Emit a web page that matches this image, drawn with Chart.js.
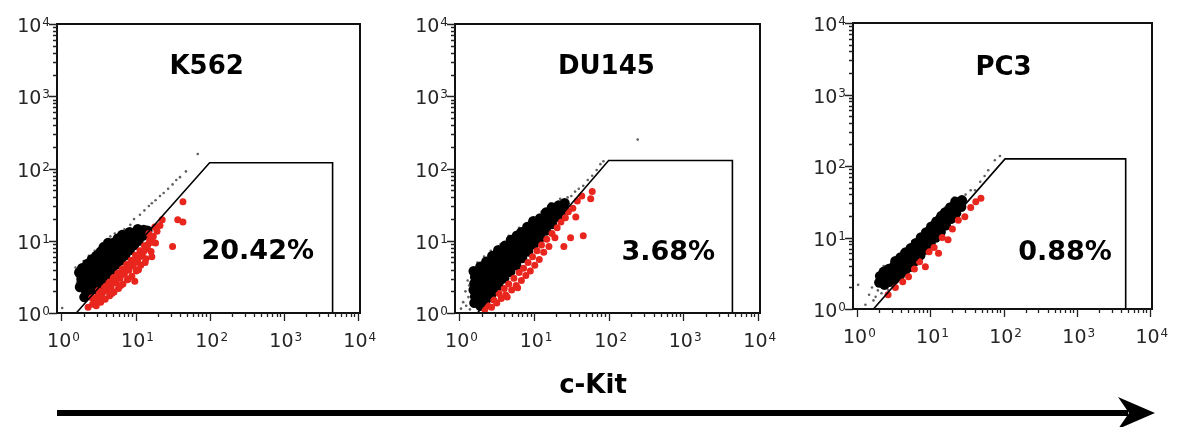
<!DOCTYPE html>
<html>
<head>
<meta charset="utf-8">
<script src="https://cdn.jsdelivr.net/npm/chart.js@4.4.1/dist/chart.umd.min.js"></script>
<style>
  html, body { margin: 0; padding: 0; background: #fff; }
  #wrap { position: relative; width: 1180px; height: 427px; overflow: hidden; }
  canvas { position: absolute; top: 0; }
  #xlabel { position: absolute; left: 493px; width: 200px; top: 369px; height: 34px; line-height: 34px;
            text-align: center; font: bold 26px "DejaVu Sans"; color: #000; }
  #arrow { position: absolute; left: 0; top: 0; }
</style>
</head>
<body>
<div id="wrap">
  <canvas id="c1" width="390" height="370" style="left:0px"></canvas>
  <canvas id="c2" width="392" height="370" style="left:398px"></canvas>
  <canvas id="c3" width="386" height="370" style="left:796px"></canvas>
  <div id="xlabel">c-Kit</div>
  <svg id="arrow" width="1180" height="427">
    <line x1="57" y1="413" x2="1128" y2="413" stroke="#000" stroke-width="6"/>
    <polygon points="1155,413 1118,397 1129,413 1118,429" fill="#000"/>
  </svg>
</div>
<script>
// axis ticks (decades)
const powers = [1, 10, 100, 1000, 10000];
const tickBase = '10';
const tickExps = ['0', '1', '2', '3', '4'];

const cellLines = ['K562', 'DU145', 'PC3'];
const gatePercents = ['20.42%', '3.68%', '0.88%'];

// all points are [log10(x), log10(y)]
// K562
const k562Black = [
  [0.25,0.36],[0.27,0.47],[0.24,0.56],[0.28,0.62],
  [0.31,0.22],[0.33,0.31],[0.30,0.41],[0.34,0.50],[0.32,0.59],[0.35,0.68],
  [0.37,0.27],[0.39,0.37],[0.38,0.46],[0.40,0.56],[0.38,0.65],[0.41,0.74],
  [0.44,0.33],[0.45,0.42],[0.43,0.52],[0.46,0.61],[0.44,0.70],[0.47,0.79],
  [0.50,0.39],[0.51,0.48],[0.49,0.57],[0.52,0.67],[0.50,0.76],[0.53,0.85],
  [0.56,0.46],[0.55,0.55],[0.57,0.64],[0.56,0.74],[0.58,0.83],[0.57,0.91],
  [0.62,0.53],[0.61,0.62],[0.63,0.71],[0.62,0.81],[0.64,0.90],[0.63,0.97],
  [0.68,0.60],[0.67,0.69],[0.69,0.79],[0.68,0.88],[0.70,0.97],
  [0.74,0.67],[0.73,0.76],[0.75,0.85],[0.74,0.94],[0.76,1.03],
  [0.80,0.73],[0.79,0.82],[0.81,0.91],[0.80,1.00],[0.82,1.08],
  [0.86,0.80],[0.85,0.89],[0.87,0.98],[0.86,1.07],
  [0.92,0.87],[0.91,0.96],[0.93,1.05],[0.92,1.12],
  [0.98,0.94],[0.97,1.03],[0.99,1.11],
  [1.04,1.00],[1.05,1.09],[1.03,1.16],
  [1.10,1.07],[1.11,1.15],[1.16,1.14]
];
const k562Sparse = [
  [0.01,0.07],[0.21,0.42],[0.19,0.63],[0.22,0.55],[0.30,0.72],[0.37,0.79],[0.45,0.86],
  [0.55,0.96],[0.66,1.06],[0.72,1.10],[0.85,1.16],[0.93,1.22],[0.98,1.30],[1.06,1.36],
  [1.12,1.42],[1.18,1.48],[1.22,1.52],[1.27,1.56],[1.33,1.62],[1.38,1.66],[1.44,1.72],
  [1.50,1.78],[1.55,1.84],[1.60,1.88],[1.68,1.96],[1.84,2.20]
];
const k562Red = [
  [0.36,0.08],[0.42,0.12],[0.41,0.21],[0.47,0.10],[0.48,0.22],[0.50,0.31],[0.53,0.15],
  [0.55,0.27],[0.58,0.37],[0.59,0.19],[0.61,0.31],[0.64,0.43],[0.65,0.24],[0.67,0.36],
  [0.70,0.49],[0.71,0.29],[0.73,0.42],[0.76,0.55],[0.77,0.34],[0.79,0.48],[0.82,0.61],
  [0.83,0.40],[0.85,0.54],[0.88,0.67],[0.89,0.46],[0.91,0.59],[0.94,0.73],[0.95,0.51],
  [0.97,0.65],[1.00,0.80],[1.01,0.58],[1.03,0.71],[1.06,0.86],[1.07,0.66],[1.09,0.79],
  [1.12,0.93],[1.14,0.75],[1.16,0.89],[1.19,1.01],[1.21,0.85],[1.24,1.06],[1.27,0.97],
  [1.29,1.13],[1.33,1.21],[1.36,1.29],[1.26,1.19],[1.18,1.10],[0.99,0.44],
  [0.45,0.16],[0.52,0.22],[0.57,0.30],[0.63,0.35],[0.69,0.42],[0.75,0.47],[0.81,0.53],
  [0.87,0.60],[0.93,0.66],[0.99,0.72],[1.05,0.78],[1.11,0.85],[1.17,0.95],[1.23,0.98],
  [0.68,0.27],[0.80,0.38],[0.90,0.47],[1.04,0.60],[1.13,0.70],[1.22,0.78],
  [1.50,0.92],[1.57,1.29],[1.64,1.26],[1.64,1.54]
];
const k562Gate = [[0.20,0],[2.00,2.08],[3.66,2.08],[3.66,0]];

// DU145
const du145Black = [
  [0.20,0.14],[0.21,0.23],[0.19,0.32],[0.20,0.41],[0.21,0.50],[0.19,0.58],
  [0.28,0.10],[0.27,0.19],[0.29,0.28],[0.28,0.37],[0.27,0.46],[0.29,0.55],[0.28,0.64],
  [0.36,0.19],[0.35,0.28],[0.37,0.37],[0.36,0.46],[0.35,0.55],[0.37,0.64],[0.36,0.71],
  [0.44,0.28],[0.43,0.37],[0.45,0.46],[0.44,0.55],[0.43,0.64],[0.45,0.72],[0.44,0.79],
  [0.52,0.38],[0.51,0.47],[0.53,0.56],[0.52,0.65],[0.51,0.74],[0.53,0.82],[0.52,0.87],
  [0.60,0.48],[0.59,0.57],[0.61,0.66],[0.60,0.75],[0.59,0.84],[0.61,0.93],
  [0.68,0.57],[0.67,0.66],[0.69,0.75],[0.68,0.84],[0.67,0.93],[0.69,1.01],
  [0.76,0.66],[0.75,0.75],[0.77,0.84],[0.76,0.93],[0.75,1.01],[0.77,1.07],
  [0.84,0.76],[0.83,0.85],[0.85,0.94],[0.84,1.03],[0.83,1.12],
  [0.92,0.85],[0.91,0.94],[0.93,1.03],[0.92,1.12],[0.91,1.19],
  [1.00,0.95],[0.99,1.04],[1.01,1.13],[1.00,1.22],[0.99,1.27],
  [1.08,1.04],[1.07,1.13],[1.09,1.22],[1.08,1.31],
  [1.16,1.14],[1.15,1.23],[1.17,1.32],[1.16,1.39],
  [1.24,1.23],[1.23,1.32],[1.25,1.41],[1.24,1.46],
  [1.32,1.33],[1.31,1.42],[1.33,1.49],
  [1.40,1.43],[1.41,1.52]
];
const du145Sparse = [
  [0.02,0.06],[0.05,0.15],[0.09,0.10],[0.12,0.22],[0.08,0.30],[0.13,0.38],[0.14,0.05],
  [0.17,0.12],[0.11,0.45],[0.15,0.55],[0.24,0.70],[0.33,0.78],[0.42,0.86],[0.55,0.95],
  [0.66,1.07],[0.80,1.18],[0.95,1.30],[1.10,1.40],[1.22,1.52],[1.35,1.58],[1.45,1.60],
  [1.50,1.62],[1.55,1.68],[1.60,1.72],[1.66,1.76],[1.72,1.84],[1.78,1.90],[1.84,1.98],
  [1.89,2.06],[1.93,2.10],[2.39,2.40]
];
const du145Red = [
  [0.34,0.05],[0.38,0.10],[0.43,0.08],[0.46,0.18],[0.50,0.14],[0.53,0.27],[0.56,0.20],
  [0.60,0.34],[0.62,0.25],[0.64,0.22],[0.66,0.40],[0.70,0.32],[0.73,0.48],[0.76,0.38],
  [0.78,0.35],[0.80,0.56],[0.83,0.45],[0.86,0.62],[0.89,0.52],[0.92,0.70],[0.95,0.58],
  [0.98,0.78],[1.01,0.66],[1.04,0.86],[1.07,0.74],[1.10,0.94],[1.13,0.84],[1.17,1.02],
  [1.20,0.92],[1.24,1.10],[1.28,1.04],[1.31,1.18],[1.36,1.26],[1.42,1.32],[1.46,1.40],
  [1.52,1.45],[1.58,1.55],[1.64,1.62],
  [1.66,1.07],[1.49,1.04],[1.40,0.92],[1.76,1.58],[1.78,1.68],[1.56,1.33]
];
const du145Gate = [[0.24,0],[2.00,2.11],[3.66,2.11],[3.66,0]];

// PC3
const pc3Black = [
  [0.30,0.37],[0.31,0.46],
  [0.37,0.34],[0.38,0.43],[0.36,0.52],
  [0.44,0.38],[0.45,0.47],[0.43,0.56],
  [0.51,0.42],[0.52,0.51],[0.50,0.60],[0.52,0.67],
  [0.58,0.47],[0.59,0.56],[0.57,0.65],[0.59,0.72],
  [0.65,0.53],[0.66,0.62],[0.64,0.71],[0.66,0.79],
  [0.72,0.59],[0.73,0.68],[0.71,0.77],[0.73,0.85],
  [0.79,0.67],[0.80,0.76],[0.78,0.85],[0.80,0.92],
  [0.86,0.75],[0.87,0.84],[0.85,0.93],[0.87,1.00],
  [0.93,0.83],[0.94,0.92],[0.92,1.01],[0.94,1.07],
  [1.00,0.92],[1.01,1.01],[0.99,1.10],[1.01,1.15],
  [1.07,1.00],[1.08,1.09],[1.06,1.18],[1.08,1.22],
  [1.14,1.08],[1.15,1.17],[1.13,1.26],[1.15,1.30],
  [1.21,1.17],[1.22,1.26],[1.20,1.35],
  [1.28,1.26],[1.29,1.35],[1.27,1.42],
  [1.35,1.34],[1.36,1.43],[1.34,1.50],
  [1.42,1.43],[1.43,1.52]
];
const pc3Sparse = [
  [0.01,0.34],[0.11,0.06],[0.25,0.17],[0.33,0.22],[0.42,0.27],[0.20,0.30],[0.28,0.26],
  [0.36,0.60],[0.47,0.66],[0.60,0.80],[0.75,0.95],[0.90,1.10],[1.05,1.27],[1.20,1.42],
  [1.32,1.56],[1.48,1.60],[1.55,1.66],[1.61,1.66],[1.68,1.78],[1.74,1.86],[1.79,1.94],
  [1.88,2.08],[1.95,2.14],[0.16,0.20],[0.22,0.12]
];
const pc3Red = [
  [0.70,0.45],[0.93,0.59],[1.11,0.78],[1.47,1.29],[1.69,1.55],[1.24,0.97],[0.62,0.38],
  [0.78,0.56],[0.85,0.66],[0.98,0.80],[1.05,0.86],[1.16,1.00],[1.30,1.12],[1.38,1.24],
  [1.55,1.42],[1.62,1.50],[0.52,0.30],[0.42,0.20]
];
const pc3Gate = [[0.22,0],[2.02,2.10],[3.67,2.10],[3.67,0]];

// layout for each panel
const panels = [
  { canvas: 'c1', black: k562Black, sparse: k562Sparse, red: k562Red, gate: k562Gate,
    top: 24, xAxisH: 57, right: 30, title: [1.96, 3.31], pct: [2.65, 0.75] },
  { canvas: 'c2', black: du145Black, sparse: du145Sparse, red: du145Red, gate: du145Gate,
    top: 24, xAxisH: 57, right: 30, title: [1.97, 3.31], pct: [2.80, 0.74] },
  { canvas: 'c3', black: pc3Black, sparse: pc3Sparse, red: pc3Red, gate: pc3Gate,
    top: 23, xAxisH: 61, right: 30, title: [2.00, 3.27], pct: [2.84, 0.69] }
];

const xMin = Math.pow(10, -0.06);
const xMax = Math.pow(10, 4.03);

function toPts(arr) {
  return arr.map(p => ({ x: Math.pow(10, p[0]), y: Math.pow(10, p[1]) }));
}

// 1..9 x each decade
const tickValues = [];
powers.forEach((p, i) => {
  if (i === powers.length - 1) { tickValues.push(p); return; }
  for (let m = 1; m <= 9; m++) tickValues.push(p * m);
});

function setTicks(scale) {
  scale.ticks = tickValues.map(v => ({ value: v }));
}

// draws "10" with a raised exponent; (x, y) is left end and baseline
function drawPow(ctx, i, x, y) {
  ctx.font = '19px "DejaVu Sans"';
  ctx.fillText(tickBase, x, y);
  const w = ctx.measureText(tickBase).width;
  ctx.font = '12px "DejaVu Sans"';
  ctx.fillText(tickExps[i], x + w + 1, y - 6);
}
function powWidth(ctx, i) {
  ctx.font = '19px "DejaVu Sans"';
  const w = ctx.measureText(tickBase).width;
  ctx.font = '12px "DejaVu Sans"';
  return w + 1 + ctx.measureText(tickExps[i]).width;
}

// frame, tick marks and tick labels
const framePlugin = {
  id: 'frame',
  afterDraw(chart) {
    const { ctx, chartArea: a, scales } = chart;
    ctx.save();
    ctx.strokeStyle = '#111';
    ctx.lineWidth = 2;
    ctx.strokeRect(a.left, a.top, a.right - a.left, a.bottom - a.top);
    ctx.lineWidth = 1.3;
    ctx.strokeStyle = '#222';
    ctx.beginPath();
    scales.x.ticks.forEach(t => {
      const px = Math.round(scales.x.getPixelForValue(t.value)) + 0.5;
      const len = powers.includes(t.value) ? 8 : 4;
      ctx.moveTo(px, a.bottom);
      ctx.lineTo(px, a.bottom + len);
    });
    scales.y.ticks.forEach(t => {
      const py = Math.round(scales.y.getPixelForValue(t.value)) + 0.5;
      const len = powers.includes(t.value) ? 8 : 4;
      ctx.moveTo(a.left - len, py);
      ctx.lineTo(a.left, py);
    });
    ctx.stroke();

    ctx.fillStyle = '#262626';
    ctx.textAlign = 'left';
    ctx.textBaseline = 'alphabetic';
    powers.forEach((v, i) => {
      const w = powWidth(ctx, i);
      const px = scales.x.getPixelForValue(v);
      drawPow(ctx, i, px - w / 2 + 2, a.bottom + 34);
      const py = scales.y.getPixelForValue(v);
      drawPow(ctx, i, a.left - 7 - w, py + 8);
    });
    ctx.restore();
  }
};

function makeChart(p, idx) {
  const textPlugin = {
    id: 'panelText',
    afterDraw(chart) {
      const { ctx, scales } = chart;
      ctx.save();
      ctx.fillStyle = '#000';
      ctx.textAlign = 'center';
      ctx.textBaseline = 'alphabetic';
      ctx.font = 'bold 26px "DejaVu Sans"';
      ctx.fillText(cellLines[idx],
        scales.x.getPixelForValue(Math.pow(10, p.title[0])),
        scales.y.getPixelForValue(Math.pow(10, p.title[1])));
      ctx.font = 'bold 27px "DejaVu Sans"';
      ctx.fillText(gatePercents[idx],
        scales.x.getPixelForValue(Math.pow(10, p.pct[0])),
        scales.y.getPixelForValue(Math.pow(10, p.pct[1])));
      ctx.restore();
    }
  };

  return new Chart(document.getElementById(p.canvas), {
    type: 'scatter',
    data: {
      datasets: [
        { data: toPts(p.gate), showLine: true, borderColor: '#000', borderWidth: 1.6,
          pointRadius: 0, fill: false, tension: 0 },
        { data: toPts(p.red), backgroundColor: '#e8261e', pointBorderWidth: 0, pointRadius: 3.5 },
        { data: toPts(p.black), backgroundColor: '#000', pointBorderWidth: 0, pointRadius: 5.2 },
        { data: toPts(p.sparse), backgroundColor: 'rgba(30,30,30,0.7)', pointBorderWidth: 0, pointRadius: 1.3 }
      ]
    },
    options: {
      responsive: false,
      animation: false,
      layout: { padding: { top: p.top, right: p.right, left: 0, bottom: 0 } },
      plugins: { legend: { display: false }, tooltip: { enabled: false } },
      scales: {
        x: {
          type: 'logarithmic', min: xMin, max: xMax,
          grid: { display: false, drawTicks: false },
          border: { display: false },
          afterBuildTicks: setTicks,
          afterFit: s => { s.height = p.xAxisH; },
          ticks: { display: false }
        },
        y: {
          type: 'logarithmic', min: 1, max: 10000,
          grid: { display: false, drawTicks: false },
          border: { display: false },
          afterBuildTicks: setTicks,
          afterFit: s => { s.width = 57; },
          ticks: { display: false }
        }
      }
    },
    plugins: [framePlugin, textPlugin]
  });
}

panels.forEach(makeChart);
</script>
</body>
</html>
